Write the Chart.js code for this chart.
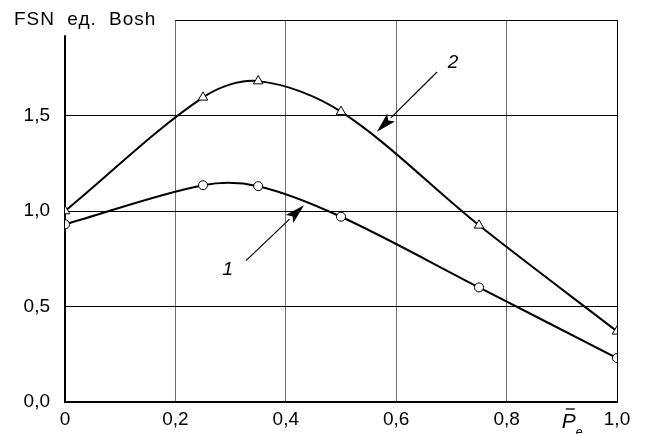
<!DOCTYPE html>
<html>
<head>
<meta charset="utf-8">
<script src="https://cdn.jsdelivr.net/npm/chart.js@4/dist/chart.umd.min.js"></script>
<style>
html,body{margin:0;padding:0;background:#fff;}
#wrap{width:653px;height:434px;position:relative;}
</style>
</head>
<body>
<div id="wrap"><canvas id="c" width="653" height="434"></canvas></div>
<script>
// ---- data ----
const xValues = [0, 0.25, 0.35, 0.5, 0.75, 1.0];
const series1 = [0.93, 1.135, 1.13, 0.97, 0.60, 0.23];   // curve 1 (circles)
const series2 = [1.0, 1.595, 1.68, 1.52, 0.925, 0.37];   // curve 2 (triangles)
const xTicks = [0, 0.2, 0.4, 0.6, 0.8, 1.0];
const xTickLabels = ['0', '0,2', '0,4', '0,6', '0,8', '1,0'];
const yTicks = [0, 0.5, 1.0, 1.5];
const yTickLabels = ['0,0', '0,5', '1,0', '1,5'];
const yTitle = 'FSN ед. Bosh';
const xTitle = 'P';
const xTitleSub = 'e';
// annotations in data units: [label, labelX, labelY, tailX, tailY, tipX, tipY]
const annotations = [
  ['2', 0.703, 1.775, 0.674, 1.728, 0.565, 1.415],
  ['1', 0.295, 0.695, 0.328, 0.74, 0.433, 1.03]
];

const FONT = '"Liberation Sans", Arial, sans-serif';

const pts = (ys) => xValues.map((x, i) => ({x: x, y: ys[i]}));

const decor = {
  id: 'decor',
  beforeDatasetsDraw(chart) {
    const ctx = chart.ctx, xs = chart.scales.x, ys = chart.scales.y;
    ctx.save();
    // top border from x=0.2 to 1.0
    ctx.strokeStyle = '#000'; ctx.lineWidth = 1;
    ctx.beginPath();
    ctx.moveTo(xs.getPixelForValue(0.2), Math.round(ys.getPixelForValue(2)) + 0.5);
    ctx.lineTo(xs.getPixelForValue(1.0) + 0.5, Math.round(ys.getPixelForValue(2)) + 0.5);
    ctx.stroke();
    // left axis
    ctx.lineWidth = 2;
    ctx.beginPath();
    ctx.moveTo(xs.getPixelForValue(0), ys.getPixelForValue(1.92));
    ctx.lineTo(xs.getPixelForValue(0), ys.getPixelForValue(0));
    ctx.stroke();
    ctx.restore();
  },
  afterDatasetsDraw(chart) {
    const ctx = chart.ctx, xs = chart.scales.x, ys = chart.scales.y;
    ctx.save();
    ctx.fillStyle = '#000'; ctx.strokeStyle = '#000';
    // y title
    ctx.font = '19px ' + FONT;
    ctx.textAlign = 'left'; ctx.textBaseline = 'alphabetic';
    ctx.letterSpacing = '1px';
    ctx.wordSpacing = '6px';
    ctx.fillText(yTitle, 14, 25);
    ctx.letterSpacing = '0px';
    ctx.wordSpacing = '0px';
    // x title P-bar with subscript e
    const px = xs.getPixelForValue(0.9);
    const py = ys.getPixelForValue(0) + 26;
    ctx.font = 'italic 21px ' + FONT;
    ctx.fillText(xTitle, px, py);
    const pw = ctx.measureText(xTitle).width;
    ctx.lineWidth = 1.3;
    ctx.beginPath();
    ctx.moveTo(px + 4, py - 19); ctx.lineTo(px + pw - 1, py - 19);
    ctx.stroke();
    ctx.font = 'italic 12px ' + FONT;
    ctx.fillText(xTitleSub, px + pw, py + 8);
    // annotations
    annotations.forEach(a => {
      const [lab, lx, ly, tx, ty, hx, hy] = a;
      const Lx = xs.getPixelForValue(lx), Ly = ys.getPixelForValue(ly);
      const Tx = xs.getPixelForValue(tx), Ty = ys.getPixelForValue(ty);
      const Hx = xs.getPixelForValue(hx), Hy = ys.getPixelForValue(hy);
      ctx.font = 'italic 19px ' + FONT;
      ctx.textAlign = 'center'; ctx.textBaseline = 'middle';
      ctx.fillText(lab, Lx, Ly);
      const ang = Math.atan2(Hy - Ty, Hx - Tx);
      const hl = 20, hw = 5.5;
      const bx = Hx - hl * Math.cos(ang), by = Hy - hl * Math.sin(ang);
      ctx.lineWidth = 1.2;
      ctx.beginPath(); ctx.moveTo(Tx, Ty); ctx.lineTo(bx, by); ctx.stroke();
      ctx.beginPath();
      ctx.moveTo(Hx, Hy);
      ctx.lineTo(bx + hw * Math.sin(ang), by - hw * Math.cos(ang));
      ctx.lineTo(bx + 4 * Math.cos(ang), by + 4 * Math.sin(ang));
      ctx.lineTo(bx - hw * Math.sin(ang), by + hw * Math.cos(ang));
      ctx.closePath(); ctx.fill();
    });
    ctx.restore();
  }
};

new Chart(document.getElementById('c'), {
  type: 'line',
  data: {
    datasets: [
      {
        label: '1', data: pts(series1),
        borderColor: '#000', borderWidth: 2, tension: 0.33,
        pointStyle: 'circle', pointRadius: 4.5,
        pointBackgroundColor: '#fff', pointBorderColor: '#000', pointBorderWidth: 1
      },
      {
        label: '2', data: pts(series2),
        borderColor: '#000', borderWidth: 2, tension: 0.33,
        pointStyle: 'triangle', pointRadius: 5.5,
        pointBackgroundColor: '#fff', pointBorderColor: '#000', pointBorderWidth: 1
      }
    ]
  },
  options: {
    responsive: false,
    animation: false,
    devicePixelRatio: 1,
    layout: {padding: {top: 20, right: 36, left: 0, bottom: 0}},
    plugins: {legend: {display: false}, tooltip: {enabled: false}},
    scales: {
      x: {
        type: 'linear', min: 0, max: 1,
        afterBuildTicks: s => { s.ticks = xTicks.map(v => ({value: v})); },
        afterFit: s => { s.height = 32; s.paddingLeft = 0; s.paddingRight = 0; },
        ticks: {
          callback: (v) => { const i = xTicks.findIndex(t => Math.abs(t - v) < 1e-6); return i >= 0 ? xTickLabels[i] : ''; },
          font: {family: FONT, size: 19}, color: '#000', padding: 6, maxRotation: 0, autoSkip: false
        },
        grid: {
          drawTicks: false, lineWidth: 1,
          color: c => { const v = c.tick ? c.tick.value : -1; if (v === 0) return 'rgba(0,0,0,0)'; if (Math.abs(v - 1) < 1e-6) return '#000'; return '#707070'; }
        },
        border: {display: true, color: '#000', width: 2}
      },
      y: {
        type: 'linear', min: 0, max: 2,
        afterBuildTicks: s => { s.ticks = yTicks.map(v => ({value: v})); },
        afterFit: s => { s.width = 65; s.paddingTop = 0; s.paddingBottom = 0; },
        ticks: {
          callback: (v) => { const i = yTicks.findIndex(t => Math.abs(t - v) < 1e-6); return i >= 0 ? yTickLabels[i] : ''; },
          font: {family: FONT, size: 19}, color: '#000', padding: 15
        },
        grid: {
          drawTicks: false, lineWidth: 1,
          color: c => { const v = c.tick ? c.tick.value : -1; return v === 0 ? 'rgba(0,0,0,0)' : '#000'; }
        },
        border: {display: false}
      }
    }
  },
  plugins: [decor]
});
</script>
</body>
</html>
